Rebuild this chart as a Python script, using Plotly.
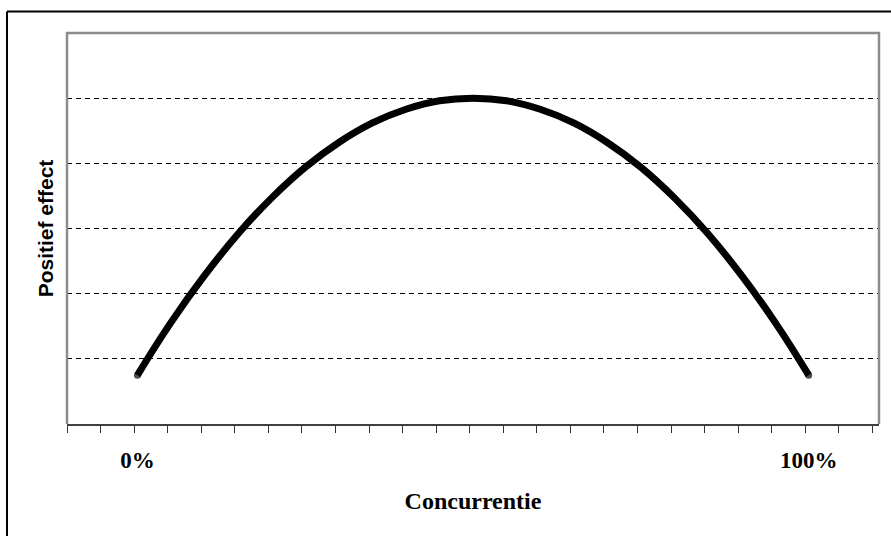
import plotly.graph_objects as go

# Data
concurrentie = [0, 5, 10, 15, 20, 25, 30, 35, 40, 45, 50,
                55, 60, 65, 70, 75, 80, 85, 90, 95, 100]
positief_effect = [0.75, 1.56, 2.28, 2.92, 3.47, 3.94, 4.32, 4.62, 4.83, 4.96, 5.0,
                   4.96, 4.83, 4.62, 4.32, 3.94, 3.47, 2.92, 2.28, 1.56, 0.75]
x_tick_values = [0, 100]
x_tick_labels = ["0%", "100%"]
y_grid_values = [1, 2, 3, 4, 5]

W, H = 891, 536
L, R, T, B = 67, 12, 33, 112

marker_sizes = [7] + [0] * (len(concurrentie) - 2) + [7]

fig = go.Figure()
fig.add_trace(go.Scatter(
    x=concurrentie, y=positief_effect,
    mode="lines+markers",
    line=dict(color="black", width=7, shape="spline", smoothing=1.3),
    marker=dict(size=marker_sizes, color="black", line=dict(width=0)),
    showlegend=False, hoverinfo="skip",
))

plot_w = W - L - R
plot_h = H - T - B
ox = (7 - L) / plot_w
oy = (H - B - 11.5) / plot_h

fig.update_layout(
    width=W, height=H,
    margin=dict(l=L, r=R, t=T, b=B, pad=0),
    paper_bgcolor="white", plot_bgcolor="white",
    xaxis=dict(
        range=[-10.5, 110.48],
        tickvals=x_tick_values, ticktext=x_tick_labels,
        ticks="",
        tickfont=dict(family="Liberation Serif", size=23, color="black", weight="bold"),
        ticklabelstandoff=14,
        showgrid=False, zeroline=False,
        showline=True, linecolor="#404040", linewidth=2,
        minor=dict(ticks="outside", tick0=-10.5, dtick=5, ticklen=7,
                   tickcolor="#333333", tickwidth=1, showgrid=False),
        title=dict(text="Concurrentie", standoff=21,
                   font=dict(family="Liberation Serif", size=24, color="black", weight="bold")),
        fixedrange=True,
    ),
    yaxis=dict(
        range=[0, 6],
        tickvals=y_grid_values, showticklabels=False, ticks="",
        showgrid=True, gridcolor="black", gridwidth=1, griddash="5px,4px",
        zeroline=False, showline=False,
        title=dict(text="Positief effect", standoff=6,
                   font=dict(family="Liberation Sans", size=21, color="black", weight="bold")),
        fixedrange=True,
    ),
    shapes=[
        dict(type="path", xref="paper", yref="paper",
             path="M 0,0 L 0,1 L 1,1 L 1,0",
             line=dict(color="#8c8c8c", width=2.5), layer="above"),
        dict(type="line", xref="paper", yref="paper",
             x0=ox, x1=1.2, y0=oy, y1=oy,
             line=dict(color="black", width=2)),
        dict(type="line", xref="paper", yref="paper",
             x0=ox, x1=ox, y0=oy, y1=-0.5,
             line=dict(color="black", width=2)),
    ],
)

fig.write_html("out.html", config={"displayModeBar": False},
               post_script="document.body.style.margin='0';")
